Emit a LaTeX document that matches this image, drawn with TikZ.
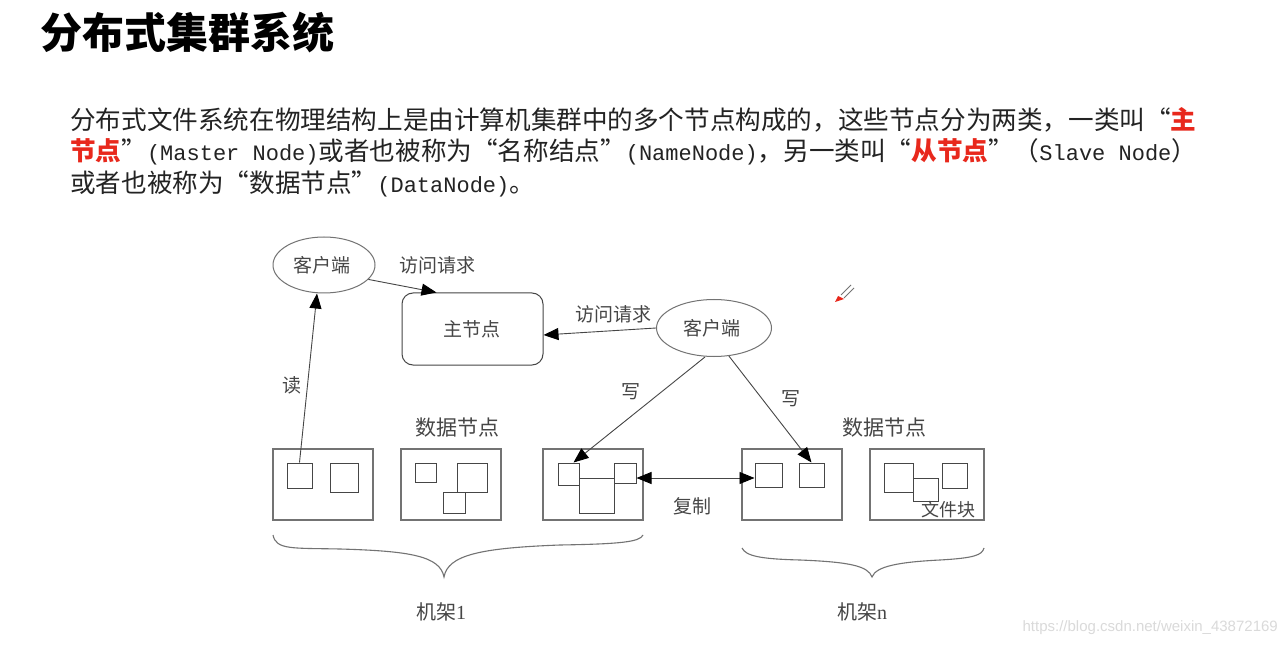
\documentclass[tikz,border=0pt]{standalone}
\usepackage{fontspec}
\usetikzlibrary{shapes.geometric,arrows.meta}
\newfontfamily\cjk{Noto Sans CJK SC}
\newfontfamily\monof{Liberation Mono}
\newfontfamily\serf{Liberation Serif}
\newfontfamily\sansf{Liberation Sans}
\definecolor{txt}{RGB}{35,35,35}
\definecolor{red1}{RGB}{232,40,28}
\definecolor{dg}{RGB}{70,70,70}
\definecolor{lg}{RGB}{115,115,115}
\definecolor{wm}{RGB}{218,218,218}
\newcommand\mono[1]{{\monof\fontsize{22}{30}\selectfont #1}}
\begin{document}
\begin{tikzpicture}[x=1pt,y=-1pt,
  lbl/.style={text=dg,font=\fontsize{19}{22}\selectfont\cjk,inner sep=0},
  dlbl/.style={text=dg,font=\fontsize{21}{24}\selectfont\cjk,inner sep=0},
  ell/.style={ellipse,draw=lg,line width=1pt,inner sep=0},
  box/.style={draw=lg,line width=1.2pt,minimum width=100pt,minimum height=71pt,inner sep=0},
  sq/.style={draw=dg,line width=1pt,inner sep=0},
  arr/.style={draw=dg,line width=0.9pt,-{Triangle[length=15pt,width=12pt,color=black]}},
  darr/.style={draw=dg,line width=0.9pt,{Triangle[length=15pt,width=12pt,color=black]}-{Triangle[length=15pt,width=12pt,color=black]}},
  brace/.style={draw=lg,line width=1.1pt}]
\useasboundingbox (0,0) rectangle (1286,647);
\fill[white] (0,0) rectangle (1286,647);

% title and paragraph
\node[anchor=west,inner sep=0] (title) at (40,33) {\fontsize{42}{46}\selectfont\cjk\bfseries 分布式集群系统};
\node[anchor=west,inner sep=0,text=txt] (p1) at (70,120) {\fontsize{25.6}{30}\selectfont\cjk 分布式文件系统在物理结构上是由计算机集群中的多个节点构成的，这些节点分为两类，一类叫“\textcolor{red1}{\bfseries 主}};
\node[anchor=west,inner sep=0,text=txt] (p2) at (70,152) {\fontsize{25.6}{30}\selectfont\cjk \textcolor{red1}{\bfseries 节点}”\mono{(Master Node)}或者也被称为“名称结点”\mono{(NameNode)}，另一类叫“\textcolor{red1}{\bfseries 从节点}”（\mono{Slave Node}）};
\node[anchor=west,inner sep=0,text=txt] (p3) at (70,184) {\fontsize{25.6}{30}\selectfont\cjk 或者也被称为“数据节点”\mono{(DataNode)}。};

% clients and master
\node[ell,minimum width=102pt,minimum height=56pt] (c1) at (324,265) {};
\node[lbl] at (322,265) {客户端};
\node[ell,minimum width=115pt,minimum height=57pt] (c2) at (714,328) {};
\node[lbl] at (712,328) {客户端};
\node[draw=dg,line width=1pt,rounded corners=11pt,minimum width=141pt,minimum height=72pt,inner sep=0] (master) at (472.5,329) {};
\node[lbl] at (472,329) {主节点};

% labels
\node[lbl] (l1) at (437,265) {访问请求};
\node[lbl] (l2) at (613,314) {访问请求};
\node[lbl] (l3) at (631,392) {写};
\node[lbl] (l4) at (791,399) {写};
\node[lbl] (l5) at (292,385) {读};
\node[lbl] (l6) at (692,506) {复制};
\node[dlbl] (d1) at (457,428) {数据节点};
\node[dlbl] (d2) at (884,428) {数据节点};

% data node boxes
\node[box] (b1) at (323,484.5) {};
\node[box] (b2) at (451,484.5) {};
\node[box] (b3) at (593,484.5) {};
\node[box] (b4) at (792,484.5) {};
\node[box,minimum width=114pt] (b5) at (927,484.5) {};

% inner blocks
\node[sq,minimum width=25pt,minimum height=25pt] (a1) at (299.5,475.5) {};
\node[sq,minimum width=28pt,minimum height=29pt] (a2) at (344,477.5) {};
\node[sq,minimum width=21pt,minimum height=19pt] (a3) at (425.5,472.5) {};
\node[sq,minimum width=30pt,minimum height=29pt] (a4) at (472,477.5) {};
\node[sq,minimum width=22pt,minimum height=21pt] (a5) at (454,502.5) {};
\node[sq,minimum width=21pt,minimum height=22pt] (f) at (568.5,474) {};
\node[sq,minimum width=22pt,minimum height=20pt] (g) at (625,473) {};
\node[sq,minimum width=35pt,minimum height=35pt] (h) at (596.5,495.5) {};
\node[sq,minimum width=27pt,minimum height=24pt] (i) at (768.5,475) {};
\node[sq,minimum width=25pt,minimum height=24pt] (j) at (811.5,475) {};
\node[sq,minimum width=29pt,minimum height=29pt] (k) at (898.5,477.5) {};
\node[sq,minimum width=25pt,minimum height=23pt] (l) at (925.5,489.5) {};
\node[sq,minimum width=25pt,minimum height=25pt] (m) at (954.5,475.5) {};
\node[lbl,font=\fontsize{18}{20}\selectfont\cjk] (fb) at (948,510) {文件块};

% connectors
\draw[arr] (c1.-18) -- ([xshift=35pt]master.north west);
\draw[arr] (c2.west) -- ([yshift=-6pt]master.east);
\draw[arr] (a1.north) -- ([xshift=-7pt]c1.south);
\draw[arr] ([xshift=-9pt]c2.south) -- ([xshift=-6pt]f.north east);
\draw[arr] (c2.-62) -- (j.north);
\draw[darr] ([yshift=-5pt]g.east) -- ([yshift=-3pt]i.west);

% braces
\draw[brace] (273,535) .. controls (276,550) and (292,548) .. (340,549) .. controls (410,551) and (440,556) .. (444,577) .. controls (448,555) and (480,548) .. (560,545) .. controls (620,544) and (640,542) .. (643,535);
\draw[brace] (742,548) .. controls (746,556) and (760,559) .. (800,560) .. controls (850,562) and (868,566) .. (872,577) .. controls (876,566) and (900,562) .. (940,560) .. controls (975,558) and (982,555) .. (984,548);
\node[lbl,font=\fontsize{20}{22}\selectfont\cjk] (r1) at (441,612) {机架{\serf 1}};
\node[lbl,font=\fontsize{20}{22}\selectfont\cjk] (r2) at (862,612) {机架{\serf n}};

% pencil cursor
\draw[lg,line width=1pt] (851,285) -- (841,295);
\draw[lg,line width=1pt] (854,288) -- (844,298);
\fill[red1] (838,296) -- (844,299) -- (835,302) -- cycle;

% watermark
\node[anchor=east,inner sep=0,text=wm,font=\fontsize{15}{17}\selectfont\sansf] (wmk) at (1278,628) {https://blog.csdn.net/weixin\_43872169};
\end{tikzpicture}
\end{document}
